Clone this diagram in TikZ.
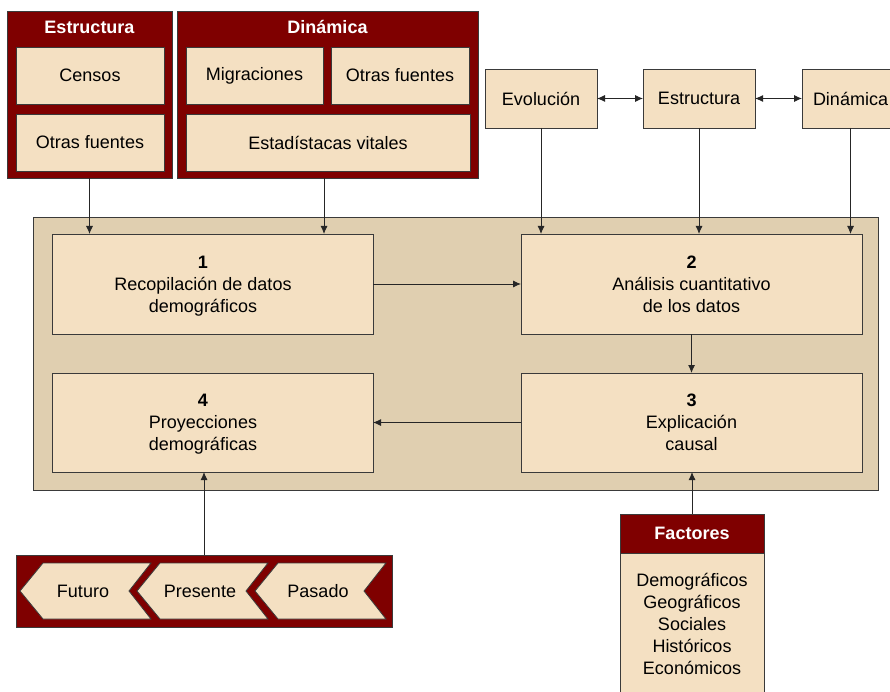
\documentclass[tikz,border=0pt]{standalone}
\usepackage{fontspec}
\setmainfont{Liberation Sans}
\usetikzlibrary{arrows.meta}
\definecolor{granate}{HTML}{7F0000}
\definecolor{crema}{HTML}{F4E0C2}
\definecolor{fondo}{HTML}{E0CFB0}
\definecolor{borde}{HTML}{3A3A3A}
\begin{document}
\begin{tikzpicture}[x=1pt,y=-1pt,
  >={Latex[length=8pt,width=7pt]},
  caja/.style={draw=borde,line width=0.8pt,fill=crema,inner sep=0pt,outer sep=0pt,align=center,font=\fontsize{18}{22}\selectfont},
  texto/.style={inner sep=0pt,align=center,font=\fontsize{18}{22}\selectfont,yshift=-3.5pt},
  grupo/.style={draw=borde,line width=0.8pt,fill=granate,inner sep=0pt,outer sep=0pt},
  titulo/.style={text=white,font=\fontsize{18}{22}\selectfont\bfseries},
  flecha/.style={->,draw=black!85,line width=0.9pt}]
\useasboundingbox (0,0) rectangle (890,692);
\clip (0,0) rectangle (890,692);
\fill[white] (0,0) rectangle (890,692);
\node[grupo,minimum width=165pt,minimum height=167pt] (grEstr) at (89.5,94.5) {};
\node[titulo] (tEstr) at (89.5,27) {Estructura};
\node[caja,minimum width=148pt,minimum height=57pt] (censos) at (90,75.5) {Censos};
\node[caja,minimum width=148pt,minimum height=57pt] (otrasE) at (90,142.5) {Otras fuentes};
\node[grupo,minimum width=301pt,minimum height=167pt] (grDin) at (327.5,94.5) {};
\node[titulo] (tDin) at (327.5,27) {Dinámica};
\node[caja,minimum width=137pt,minimum height=57pt] (migr) at (254.5,75.5) {Migraciones};
\node[caja,minimum width=138pt,minimum height=57pt] (otrasD) at (400,75.5) {Otras fuentes};
\node[caja,minimum width=284pt,minimum height=57pt] (estad) at (328,142.5) {Estadístacas vitales};
\node[caja,minimum width=112pt,minimum height=59pt] (evol) at (541,98.5) {Evolución};
\node[caja,minimum width=112pt,minimum height=59pt] (estr) at (699,98.5) {Estructura};
\node[caja,minimum width=97pt,minimum height=59pt] (dinam) at (850.5,98.5) {Dinámica};
\draw[flecha,<->] (evol) -- (estr);
\draw[flecha,<->] (estr) -- (dinam);
\node[caja,fill=fondo,minimum width=845pt,minimum height=273pt] (panel) at (455.5,353.5) {};
\node[caja,minimum width=321pt,minimum height=100pt] (paso1) at (212.5,284) {};
\node[texto] (txt1) at (203,284) {\textbf{1}\\Recopilación de datos\\demográficos\strut};
\node[caja,minimum width=341pt,minimum height=100pt] (paso2) at (691.5,284) {};
\node[texto] (txt2) at (691.5,284) {\textbf{2}\\Análisis cuantitativo\\de los datos\strut};
\node[caja,minimum width=341pt,minimum height=99pt] (paso3) at (691.5,422.5) {};
\node[texto] (txt3) at (691.5,422.5) {\textbf{3}\\Explicación\\causal\strut};
\node[caja,minimum width=321pt,minimum height=99pt] (paso4) at (212.5,422.5) {};
\node[texto] (txt4) at (203,422.5) {\textbf{4}\\Proyecciones\\demográficas\strut};
\draw[flecha] (grEstr.south) -- (grEstr.south |- paso1.north);
\draw[flecha] ([xshift=-3.5pt]grDin.south) -- ([xshift=-3.5pt]grDin.south |- paso1.north);
\draw[flecha] (evol) -- (evol |- paso2.north);
\draw[flecha] (estr) -- (estr |- paso2.north);
\draw[flecha] (dinam) -- (dinam |- paso2.north);
\draw[flecha] (paso1) -- (paso2);
\draw[flecha] (paso2) -- (paso3);
\draw[flecha] (paso3) -- (paso4);
\node[grupo,minimum width=376pt,minimum height=72pt] (tiempo) at (204,591) {};
\foreach \p/\nombre/\texto in {20/futuro/Futuro,137/presente/Presente,255/pasado/Pasado}{
  \filldraw[fill=crema,draw=borde,line width=0.8pt] (\p,591) -- (\p+23,563) -- (\p+131,563) -- (\p+109,591) -- (\p+131,619) -- (\p+23,619) -- cycle;
  \node[font=\fontsize{18}{22}\selectfont] (\nombre) at (\p+63,591) {\texto};
}
\draw[flecha] (tiempo.north) -- (tiempo.north |- paso4.south);
\node[grupo,titulo,minimum width=144pt,minimum height=39pt] (factores) at (692,533.5) {Factores};
\node[caja,minimum width=144pt,minimum height=142pt,anchor=north] (lista) at (factores.south) {Demográficos\\Geográficos\\Sociales\\Históricos\\Económicos};
\draw[flecha] (factores.north) -- (factores.north |- paso3.south);
\end{tikzpicture}
\end{document}
